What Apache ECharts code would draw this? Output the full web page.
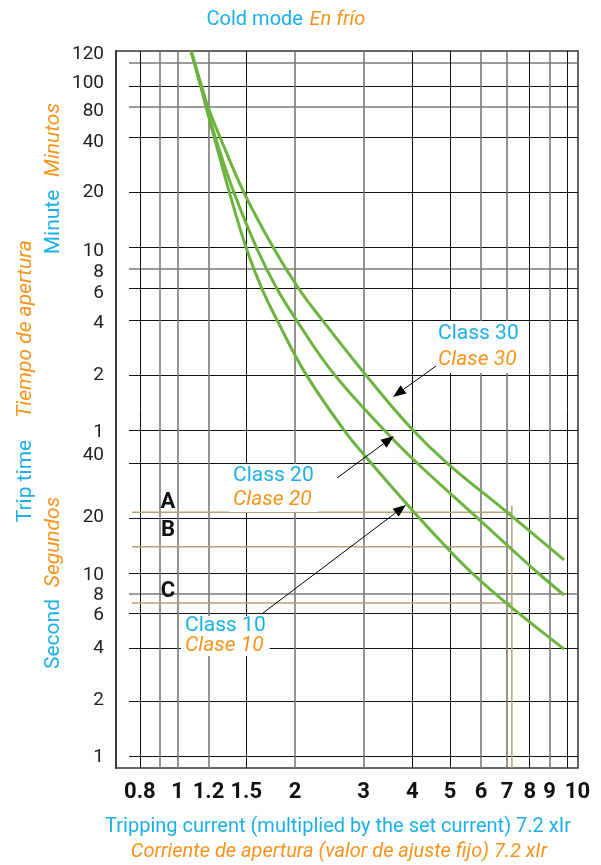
<!DOCTYPE html>
<html><head><meta charset="utf-8">
<script src="https://cdn.jsdelivr.net/npm/echarts@6/dist/echarts.min.js"></script>
<style>html,body{margin:0;padding:0;background:#fff}#c{width:601px;height:865px}</style>
</head><body><div id="c"></div>
<script>
// ---- data (x = multiple of set current, y = trip time in seconds) ----
const xTickValues = [0.8, 1, 1.2, 1.5, 2, 3, 4, 5, 6, 7, 8, 9, 10];
const xTickLabels = ['0.8', '1', '1.2', '1.5', '2', '3', '4', '5', '6', '7', '8', '9', '10'];
const xGridDark = [0.8, 1.5, 4, 5, 8, 10];
const xGridGray = [0.9, 1, 1.2, 2, 3, 6, 7, 9];

const yTickLabels = ['120', '100', '80', '40', '20', '10', '8', '6', '4', '2', '1',
                     '40', '20', '10', '8', '6', '4', '2', '1'];
const yTickSeconds = [6856, 4760, 3346, 2265, 1208, 575, 441, 339, 232, 121, 59,
                      44, 20.2, 9.75, 7.58, 5.9, 3.89, 2.02, 0.99];
const yGridDark = [4585, 2400, 1200, 600, 360, 240, 120, 60, 40, 20, 10, 6, 3.9, 2, 1];
const yGridGray = [6124, 3518, 459, 7.7];

const class10Current = [1.083, 1.146, 1.183, 1.237, 1.359, 1.503, 1.647, 1.805, 2.123, 2.672, 3.135, 4.041, 4.881, 5.690, 6.955, 9.796];
const class10Time    = [7117, 4585, 3518, 2473, 1193, 589, 356, 238, 124, 60.4, 39.9, 21.5, 13.9, 10, 6.86, 3.84];
const class20Current = [1.083, 1.146, 1.187, 1.244, 1.396, 1.599, 1.800, 2.025, 2.504, 3.405, 4.113, 5.656, 7.080, 8.402, 9.796];
const class20Time    = [7117, 4585, 3518, 2473, 1193, 589, 356, 238, 124, 59.7, 39.9, 21.5, 13.9, 10, 7.58];
const class30Current = [1.083, 1.152, 1.197, 1.278, 1.481, 1.768, 2.049, 2.361, 3.008, 3.946, 4.910, 6.996, 9.796];
const class30Time    = [7117, 4585, 3518, 2473, 1193, 589, 356, 238, 124, 62.8, 39.9, 21.5, 11.8];

const abcNames = ['A', 'B', 'C'];
const abcTimes = [21.5, 13.9, 6.86];
const abcStartCurrent = 0.764;
const setCurrent = 7.2;
const setLineTopTime = 23.3;

// ---- helpers ----
const L = Math.log10;
const X_MIN = L(0.695), X_MAX = L(10.64);
const Y_MIN = L(0.86), Y_MAX = L(7117);
const BLUE = '#1cb0e8', ORANGE = '#f7941d', GREEN = '#6cb33f', TAN = '#b9a27c';
const FONT = 'Roboto';

function lookup(vals, labels, v) {
  let bi = -1, bd = 1e9;
  vals.forEach((t, i) => { const d = Math.abs(L(t) - v); if (d < bd) { bd = d; bi = i; } });
  return bd < 1e-4 ? labels[bi] : '';
}
function toPts(xs, ys) { return xs.map((v, i) => [L(v), L(ys[i])]); }

const curveSeries = [
  [class10Current, class10Time],
  [class20Current, class20Time],
  [class30Current, class30Time]
].map(([xs, ys]) => ({
  type: 'line', xAxisIndex: 0, yAxisIndex: 0, data: toPts(xs, ys),
  smooth: 0.4, symbol: 'none', z: 5,
  lineStyle: { color: GREEN, width: 3 }
}));

const abcSeries = abcTimes.map(t => ({
  type: 'line', xAxisIndex: 0, yAxisIndex: 0, symbol: 'none', z: 4,
  data: [[L(abcStartCurrent), L(t)], [L(setCurrent), L(t)]],
  lineStyle: { color: TAN, width: 1.5 }
}));
abcSeries.push({
  type: 'line', xAxisIndex: 0, yAxisIndex: 0, symbol: 'none', z: 4,
  data: [[L(setCurrent), L(setLineTopTime)], [L(setCurrent), Y_MIN]],
  lineStyle: { color: TAN, width: 1.5 }
});

function arrow(x1, y1, x2, y2) {
  const a = Math.atan2(y2 - y1, x2 - x1), hl = 13, hw = 5;
  const bx = x2 - hl * Math.cos(a), by = y2 - hl * Math.sin(a);
  const px = -Math.sin(a) * hw, py = Math.cos(a) * hw;
  return [
    { type: 'line', z: 60, shape: { x1: x1, y1: y1, x2: bx, y2: by }, style: { stroke: '#000', lineWidth: 1 } },
    { type: 'polygon', z: 60, shape: { points: [[x2, y2], [bx + px, by + py], [bx - px, by - py]] }, style: { fill: '#000' } }
  ];
}
function rt(size, color, italic) {
  return { fontSize: size, fontFamily: FONT, fill: color, color: color, fontStyle: italic ? 'italic' : 'normal' };
}
function classLabel(x, y, num, lh) {
  return {
    type: 'text', z: 50, x: x, y: y,
    style: {
      text: '{b|Class ' + num + '}\n{o|Clase ' + num + '}',
      align: 'left', verticalAlign: 'top', backgroundColor: '#fff', padding: [0, 4, 0, 4],
      rich: { b: Object.assign(rt(21, BLUE, false), { lineHeight: lh }), o: Object.assign(rt(21, ORANGE, true), { lineHeight: lh }) }
    }
  };
}
function vText(x, y, text, color, italic) {
  return { type: 'text', z: 50, x: x, y: y, rotation: Math.PI / 2,
    style: Object.assign({ text: text, align: 'center', verticalAlign: 'middle' }, rt(21, color, italic)) };
}
function hText(x, y, text, color, italic, size) {
  return { type: 'text', z: 50, x: x, y: y,
    style: Object.assign({ text: text, align: 'center', verticalAlign: 'middle' }, rt(size, color, italic)) };
}

const graphics = [
  { type: 'text', z: 50, x: 286, y: 20, style: { text: '{b|Cold mode}  {o|En frío}', align: 'center', verticalAlign: 'middle',
      rich: { b: rt(20, BLUE, false), o: rt(20, ORANGE, true) } } },
  hText(338, 827, 'Tripping current (multiplied by the set current) 7.2 xIr', BLUE, false, 20),
  hText(339, 852, 'Corriente de apertura (valor de ajuste fijo) 7.2 xIr', ORANGE, true, 20),
  vText(26, 481, 'Trip time', BLUE, false),
  vText(26, 329, 'Tiempo de apertura', ORANGE, true),
  vText(54, 222, 'Minute', BLUE, false),
  vText(54, 140, 'Minutos', ORANGE, true),
  vText(54, 634, 'Second', BLUE, false),
  vText(54, 542, 'Segundos', ORANGE, true),
  classLabel(434, 321, 30, 26),
  classLabel(229, 464, 20, 24),
  classLabel(181, 616, 10, 20),
  ...arrow(436, 366, 393, 397),
  ...arrow(337, 478, 394, 436),
  ...arrow(263, 613, 406, 505)
];
const abcY = [502, 530, 591];
abcNames.forEach((n, i) => graphics.push({ type: 'text', z: 50, x: 168, y: abcY[i],
  style: { text: n, align: 'center', verticalAlign: 'middle', fontSize: 22, fontWeight: 'bold', fontFamily: FONT, fill: '#111' } }));

const option = {
  animation: false,
  backgroundColor: '#fff',
  grid: [
    { left: 116, right: 23, top: 51, bottom: 97, show: true, borderColor: '#333', borderWidth: 1.5, backgroundColor: 'transparent' },
    { left: 129, right: 23, top: 51, bottom: 97 }
  ],
  xAxis: [
    { type: 'value', gridIndex: 0, position: 'bottom', min: X_MIN, max: X_MAX,
      axisLine: { show: false }, axisTick: { show: false, customValues: xGridDark.map(L) },
      axisLabel: { customValues: xTickValues.map(L), margin: 13, fontSize: 22, fontWeight: 'bold', fontFamily: FONT, color: '#111',
        formatter: v => { const s = lookup(xTickValues, xTickLabels, v); return s === '10' ? '{sh|10}' : s; },
        rich: { sh: { padding: [0, 0, 0, 20], fontSize: 22, fontWeight: 'bold', fontFamily: FONT, color: '#111' } } },
      splitLine: { show: true, lineStyle: { color: '#111', width: 1 } } },
    { type: 'value', gridIndex: 0, position: 'top', min: X_MIN, max: X_MAX,
      axisLine: { show: false }, axisTick: { show: false, customValues: xGridGray.map(L) }, axisLabel: { show: false },
      splitLine: { show: true, lineStyle: { color: '#7a7a7a', width: 1.6 } } },
    { type: 'value', gridIndex: 1, show: false, min: X_MIN, max: X_MAX }
  ],
  yAxis: [
    { type: 'value', gridIndex: 0, position: 'left', min: Y_MIN, max: Y_MAX,
      axisLine: { show: true, onZero: false, lineStyle: { color: '#3a3a3a', width: 2 } },
      axisTick: { show: false, customValues: yTickSeconds.map(L) },
      axisLabel: { customValues: yTickSeconds.map(L), margin: 12, fontSize: 19, fontFamily: FONT, color: '#222',
        formatter: v => lookup(yTickSeconds, yTickLabels, v) },
      splitLine: { show: false } },
    { type: 'value', gridIndex: 1, position: 'left', min: Y_MIN, max: Y_MAX,
      axisLine: { show: false }, axisTick: { show: false, customValues: yGridDark.map(L) }, axisLabel: { show: false },
      splitLine: { show: true, lineStyle: { color: '#111', width: 1 } } },
    { type: 'value', gridIndex: 1, position: 'right', min: Y_MIN, max: Y_MAX,
      axisLine: { show: false }, axisTick: { show: false, customValues: yGridGray.map(L) }, axisLabel: { show: false },
      splitLine: { show: true, lineStyle: { color: '#7a7a7a', width: 1.6 } } }
  ],
  series: [...abcSeries, ...curveSeries],
  graphic: { elements: graphics }
};
const chart = echarts.init(document.getElementById('c'), null, { renderer: 'canvas' });
chart.setOption(option);
</script>
</body></html>
